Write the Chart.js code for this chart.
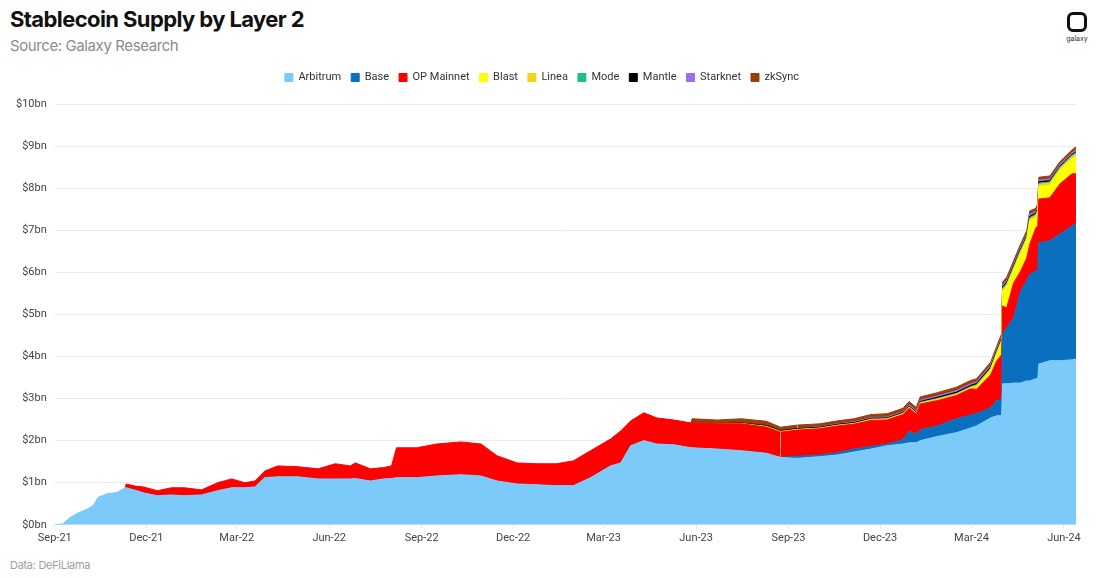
<!DOCTYPE html>
<html>
<head>
<meta charset="utf-8">
<script src="https://cdn.jsdelivr.net/npm/chart.js@4.4.1/dist/chart.umd.min.js"></script>
<style>
  body { margin: 0; width: 1100px; height: 578px; background: #fff; font-family: Inter, "Noto Sans", sans-serif; position: relative; overflow: hidden; }
  #title { position: absolute; left: 10px; top: 6px; font-size: 22px; font-weight: 700; color: #111; letter-spacing: -0.6px; }
  #sub { position: absolute; left: 10px; top: 36px; font-size: 15px; color: #8c8c8c; letter-spacing: -0.4px; }
  #foot { position: absolute; left: 10px; top: 558px; font-size: 11px; color: #a0a0a0; letter-spacing: -0.3px; }
  #logo { position: absolute; left: 1064px; top: 12px; width: 26px; text-align: center; }
  #logo .mark { width: 14px; height: 14px; border: 3px solid #111; border-radius: 6px; margin: 0 auto; }
  #logo .txt { font-size: 7px; color: #333; margin-top: 2px; }
  #wrap { position: absolute; left: 0; top: 62px; width: 1100px; height: 500px; }
</style>
</head>
<body>
<div id="title">Stablecoin Supply by Layer 2</div>
<div id="sub">Source: Galaxy Research</div>
<div id="foot">Data: DeFiLlama</div>
<div id="logo"><div class="mark"></div><div class="txt">galaxy</div></div>
<div id="wrap"><canvas id="areaChart"></canvas></div>
<script>
// values in $bn
const dates = [
  '2021-09-01','2021-09-09','2021-09-16','2021-09-24','2021-10-04','2021-10-09','2021-10-14','2021-10-23','2021-11-02','2021-11-10',
  '2021-11-11','2021-11-20','2021-11-28','2021-12-12','2021-12-26','2022-01-08','2022-01-25','2022-02-10','2022-02-24','2022-03-09',
  '2022-03-19','2022-03-29','2022-04-11','2022-05-01','2022-05-21','2022-06-07','2022-06-22','2022-06-27','2022-07-12','2022-07-25',
  '2022-08-02','2022-08-07','2022-08-27','2022-09-16','2022-10-10','2022-10-30','2022-11-15','2022-12-05','2022-12-25','2023-01-13',
  '2023-01-30','2023-02-16','2023-03-08','2023-03-18','2023-03-28','2023-04-10','2023-04-23','2023-05-10','2023-05-27','2023-05-28',
  '2023-06-22','2023-07-16','2023-08-10','2023-08-24','2023-09-10','2023-10-02','2023-10-20','2023-11-05','2023-11-22','2023-12-08',
  '2023-12-24','2023-12-30','2024-01-06','2024-01-10','2024-01-27','2024-02-15','2024-02-29','2024-03-06','2024-03-20','2024-03-26',
  '2024-03-31','2024-04-01','2024-04-05','2024-04-12','2024-04-19','2024-04-25','2024-04-28','2024-05-04','2024-05-06','2024-05-07',
  '2024-05-18','2024-05-28','2024-06-09','2024-06-13'
];

const arbitrum = [
  0,0.02,0.17,0.28,0.38,0.45,0.65,0.74,0.77,0.88,
  0.88,0.82,0.76,0.69,0.71,0.69,0.71,0.81,0.88,0.88,
  0.90,1.12,1.14,1.14,1.09,1.09,1.09,1.10,1.04,1.09,
  1.10,1.12,1.12,1.16,1.19,1.16,1.04,0.97,0.95,0.93,
  0.93,1.12,1.40,1.47,1.88,2.00,1.92,1.90,1.83,1.83,
  1.80,1.76,1.70,1.60,1.58,1.62,1.66,1.73,1.80,1.88,
  1.92,1.95,1.95,2.00,2.10,2.19,2.30,2.35,2.54,2.59,
  2.59,3.35,3.35,3.37,3.37,3.42,3.42,3.47,3.47,3.82,
  3.90,3.90,3.92,3.94
];
const base = [
  0,0,0,0,0,0,0,0,0,0,
  0,0,0,0,0,0,0,0,0,0,
  0,0,0,0,0,0,0,0,0,0,
  0,0,0,0,0,0,0,0,0,0,
  0,0,0,0,0,0,0,0,0,0,
  0,0,0,0,0.05,0.04,0.05,0.07,0.06,0.04,
  0.10,0.28,0.20,0.26,0.25,0.33,0.31,0.29,0.24,0.36,
  0.40,1.19,1.33,1.55,2.19,2.38,2.54,2.56,2.60,2.88,
  2.85,3.01,3.18,3.23
];
const opMainnet = [
  0,0,0,0,0,0,0,0,0,0,
  0.09,0.10,0.14,0.12,0.17,0.19,0.12,0.19,0.21,0.12,
  0.14,0.16,0.26,0.24,0.24,0.36,0.31,0.37,0.29,0.27,
  0.30,0.71,0.71,0.76,0.78,0.76,0.60,0.50,0.50,0.52,
  0.59,0.64,0.64,0.76,0.59,0.66,0.62,0.59,0.59,0.59,
  0.60,0.64,0.62,0.60,0.62,0.62,0.64,0.59,0.62,0.57,
  0.60,0.54,0.48,0.61,0.60,0.55,0.62,0.58,0.78,0.94,
  1.05,0.66,0.47,0.83,0.47,0.54,0.71,1.02,1.04,1.04,
  1.02,1.19,1.24,1.17
];
const blast = [
  0,0,0,0,0,0,0,0,0,0,
  0,0,0,0,0,0,0,0,0,0,
  0,0,0,0,0,0,0,0,0,0,
  0,0,0,0,0,0,0,0,0,0,
  0,0,0,0,0,0,0,0,0,0,
  0,0,0,0,0,0,0,0,0,0,
  0,0,0,0,0,0,0,0.05,0.10,0.15,
  0.30,0.35,0.50,0.30,0.42,0.42,0.55,0.25,0.30,0.30,
  0.30,0.32,0.36,0.42
];
const linea = [
  0,0,0,0,0,0,0,0,0,0,
  0,0,0,0,0,0,0,0,0,0,
  0,0,0,0,0,0,0,0,0,0,
  0,0,0,0,0,0,0,0,0,0,
  0,0,0,0,0,0,0,0,0,0,
  0,0.01,0.02,0.02,0.02,0.02,0.02,0.02,0.03,0.03,
  0.03,0.03,0.03,0.03,0.04,0.04,0.04,0.04,0.04,0.04,
  0.04,0.05,0.05,0.05,0.05,0.05,0.05,0.05,0.05,0.05,
  0.05,0.05,0.05,0.05
];
const mode = [
  0,0,0,0,0,0,0,0,0,0,
  0,0,0,0,0,0,0,0,0,0,
  0,0,0,0,0,0,0,0,0,0,
  0,0,0,0,0,0,0,0,0,0,
  0,0,0,0,0,0,0,0,0,0,
  0,0,0,0,0,0,0,0,0,0,
  0,0,0,0.01,0.01,0.01,0.01,0.02,0.02,0.02,
  0.02,0.03,0.03,0.03,0.03,0.03,0.03,0.03,0.03,0.03,
  0.03,0.03,0.03,0.03
];
const mantle = [
  0,0,0,0,0,0,0,0,0,0,
  0,0,0,0,0,0,0,0,0,0,
  0,0,0,0,0,0,0,0,0,0,
  0,0,0,0,0,0,0,0,0,0,
  0,0,0,0,0,0,0,0,0,0,
  0,0.01,0.02,0.02,0.02,0.02,0.02,0.02,0.02,0.02,
  0.02,0.02,0.02,0.02,0.03,0.03,0.03,0.03,0.03,0.03,
  0.03,0.03,0.03,0.03,0.03,0.03,0.03,0.03,0.03,0.03,
  0.03,0.02,0.02,0.02
];
const starknet = [
  0,0,0,0,0,0,0,0,0,0,
  0,0,0,0,0,0,0,0,0,0,
  0,0,0,0,0,0,0,0,0,0,
  0,0,0,0,0,0,0,0,0,0,
  0,0,0,0,0,0,0,0,0,0,
  0,0,0,0,0,0.01,0.01,0.02,0.02,0.02,
  0.02,0.03,0.03,0.03,0.03,0.04,0.04,0.04,0.04,0.04,
  0.04,0.04,0.04,0.04,0.04,0.04,0.05,0.04,0.04,0.04,
  0.04,0.04,0.04,0.05
];
const zkSync = [
  0,0,0,0,0,0,0,0,0,0,
  0,0,0,0,0,0,0,0,0,0,
  0,0,0,0,0,0,0,0,0,0,
  0,0,0,0,0,0,0,0,0,0,
  0,0,0,0,0,0,0,0,0,0.10,
  0.09,0.10,0.10,0.08,0.08,0.07,0.07,0.07,0.07,0.08,
  0.08,0.08,0.08,0.08,0.08,0.08,0.08,0.07,0.07,0.07,
  0.07,0.07,0.08,0.08,0.08,0.08,0.08,0.07,0.07,0.07,
  0.07,0.07,0.07,0.07
];

const tickDates = ['2021-09-01','2021-12-01','2022-03-01','2022-06-01','2022-09-01','2022-12-01',
  '2023-03-01','2023-06-01','2023-09-01','2023-12-01','2024-03-01','2024-06-01'];
const tickLabels = ['Sep-21','Dec-21','Mar-22','Jun-22','Sep-22','Dec-22',
  'Mar-23','Jun-23','Sep-23','Dec-23','Mar-24','Jun-24'];

const startMs = Date.UTC(2021, 8, 1);
const dayOf = (s) => {
  const [y, m, d] = s.split('-').map(Number);
  return Math.round((Date.UTC(y, m - 1, d) - startMs) / 86400000);
};
const xs = dates.map(dayOf);
const tickDays = tickDates.map(dayOf);

const series = [
  { label: 'Arbitrum', values: arbitrum, color: '#7ccafa' },
  { label: 'Base', values: base, color: '#0b6fc0' },
  { label: 'OP Mainnet', values: opMainnet, color: '#ff0000' },
  { label: 'Blast', values: blast, color: '#ffff00' },
  { label: 'Linea', values: linea, color: '#f3d31b' },
  { label: 'Mode', values: mode, color: '#1ec08a' },
  { label: 'Mantle', values: mantle, color: '#000000' },
  { label: 'Starknet', values: starknet, color: '#9b6cf0' },
  { label: 'zkSync', values: zkSync, color: '#9a3f0c' },
];

// push the plot area a bit further below the legend
const legendGap = {
  id: 'legendGap',
  beforeInit(chart) {
    const fit = chart.legend.fit;
    chart.legend.fit = function () {
      fit.bind(chart.legend)();
      this.height += 11;
    };
  },
};

const createAreaChart = () => {
  const ctx = document.getElementById('areaChart');
  new Chart(ctx, {
    type: 'line',
    plugins: [legendGap],
    data: {
      datasets: series.map((s, i) => ({
        label: s.label,
        data: s.values.map((v, j) => ({ x: xs[j], y: v })),
        backgroundColor: s.color,
        borderColor: s.color,
        borderWidth: 1,
        segment: {
          borderColor: (c) => (c.p0.raw.y === 0 && c.p1.raw.y === 0 ? 'rgba(0,0,0,0)' : s.color),
        },
        pointRadius: 0,
        tension: 0,
        fill: i === 0 ? 'origin' : '-1',
      })),
    },
    options: {
      responsive: true,
      maintainAspectRatio: false,
      animation: false,
      layout: { padding: { left: 8, right: 24, top: 0, bottom: 14 } },
      plugins: {
        tooltip: { enabled: false },
        legend: {
          position: 'top',
          labels: {
            boxWidth: 8,
            boxHeight: 8,
            padding: 10,
            color: '#333',
            font: { family: 'Roboto', size: 11 },
          },
        },
      },
      scales: {
        x: {
          type: 'linear',
          min: 0,
          max: dayOf('2024-06-13'),
          grid: { display: true, drawOnChartArea: false, tickLength: 4, color: '#e6e6e6' },
          border: { display: false },
          afterBuildTicks: (axis) => {
            axis.ticks = tickDays.map((d) => ({ value: d }));
          },
          ticks: {
            color: '#444',
            font: { family: 'Roboto', size: 11 },
            maxRotation: 0,
            autoSkip: false,
            callback: (v) => tickLabels[tickDays.indexOf(v)],
          },
        },
        y: {
          stacked: true,
          min: 0,
          max: 10,
          grid: { color: '#ebebeb', drawTicks: false },
          border: { display: false },
          ticks: {
            stepSize: 1,
            padding: 8,
            color: '#444',
            font: { family: 'Roboto', size: 11 },
            callback: (v) => '$' + v + 'bn',
          },
        },
      },
    },
  });
};

createAreaChart();
</script>
</body>
</html>
